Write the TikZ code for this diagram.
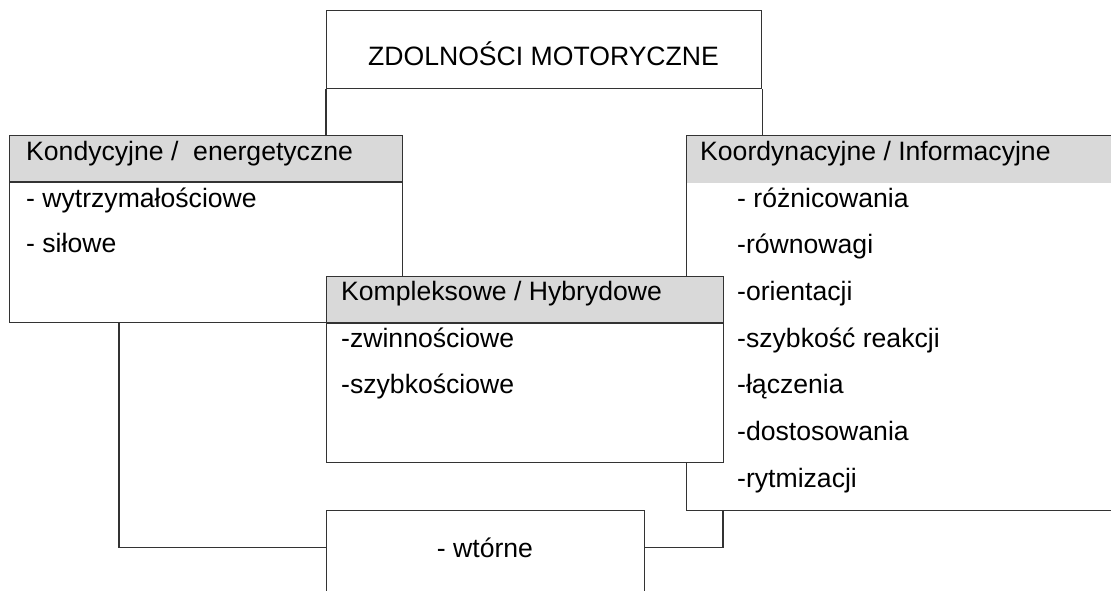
\documentclass[tikz,border=0pt]{standalone}
\usepackage{fontspec}
\setmainfont{Liberation Sans}
\usetikzlibrary{positioning,calc}

\begin{document}
\begin{tikzpicture}[x=1pt,y=-1pt,
  box/.style={draw=black!80,line width=1.1pt,fill=white,anchor=north west,inner sep=0pt},
  headbox/.style={box,path picture={\fill[black!15] (path picture bounding box.north west) rectangle ([yshift=-47pt]path picture bounding box.north east);}},
  txt/.style={anchor=base west,inner sep=0pt,font=\fontsize{26.6}{30}\selectfont},
  link/.style={draw=black!80,line width=1.1pt}]
\clip (0,0) rectangle (1111,590);
\fill[white] (0,0) rectangle (1111,590);
\node[box,minimum width=435pt,minimum height=78pt] (zdolnosci) at (326,10) {};
\node[txt,anchor=base] (zdolnoscitxt) at (543.5,65) {ZDOLNOŚCI MOTORYCZNE};
\node[headbox,minimum width=393pt,minimum height=187pt] (kond) at (9,135) {};
\node[headbox,minimum width=450pt,minimum height=375pt] (koord) at (686,135) {};
\draw[link] (zdolnosci.south west) -- (zdolnosci.south west |- kond.north);
\draw[link] (zdolnosci.south east) -- (zdolnosci.south east |- koord.north);
\draw[link] ([yshift=-47pt]kond.north west) -- ([yshift=-47pt]kond.north east);
\node[txt] (kondhead) at (26,160) {Kondycyjne /~ energetyczne};
\node[txt] (kond1) at (26,207) {- wytrzymałościowe};
\node[txt] (kond2) at (26,252) {- siłowe};
\node[txt] (koordhead) at (700,160) {Koordynacyjne / Informacyjne};
\foreach \t [count=\i from 0] in {- różnicowania,-równowagi,-orientacji,-szybkość reakcji,-łączenia,-dostosowania,-rytmizacji}
  \node[txt] (koord\i) at (737,207+46.67*\i) {\t};
\node[headbox,minimum width=397pt,minimum height=186pt] (kompl) at (326,276) {};
\draw[link] ([yshift=-47pt]kompl.north west) -- ([yshift=-47pt]kompl.north east);
\node[txt] (komplhead) at (341,300) {Kompleksowe / Hybrydowe};
\node[txt] (kompl1) at (341,347) {-zwinnościowe};
\node[txt] (kompl2) at (341,393) {-szybkościowe};
\node[box,minimum width=318pt,minimum height=110pt] (wtorne) at (326,510) {};
\node[txt,anchor=base] (wtornetxt) at (485,557) {- wtórne};
\draw[link] ([xshift=110pt]kond.south west) |- (wtorne.west |- wtornetxt.center);
\draw[link] ([xshift=37pt]koord.south west) |- (wtorne.east |- wtornetxt.center);
\end{tikzpicture}
\end{document}
